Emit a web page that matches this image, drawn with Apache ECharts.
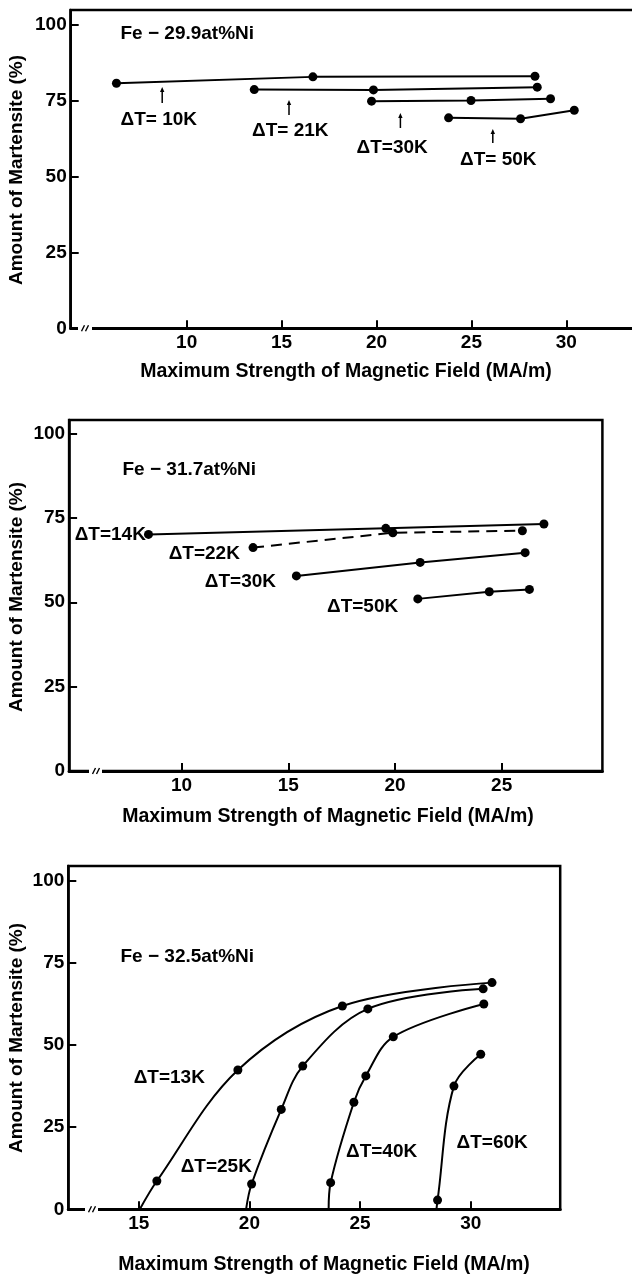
<!DOCTYPE html>
<html><head><meta charset="utf-8">
<script src="https://cdn.jsdelivr.net/npm/echarts@6/dist/echarts.min.js"></script>
<style>html,body{margin:0;padding:0;background:#fff}#c{width:632px;height:1278px}</style>
</head><body><div id="c"></div>
<script>
// ---------- DATA ----------
// Panel 1: Fe-29.9at%Ni  [field MA/m, martensite %]
const fe299_dT10 = [[6.3, 80.8], [16.65, 82.9], [28.35, 83.1]];
const fe299_dT21 = [[13.56, 78.7], [19.84, 78.6], [28.47, 79.5]];
const fe299_dT30 = [[19.74, 74.9], [24.98, 75.1], [29.17, 75.7]];
const fe299_dT50 = [[23.8, 69.4], [27.59, 69.1], [30.42, 71.9]];
// Panel 2: Fe-31.7at%Ni
const fe317_dT14 = [[8.45, 70.1], [19.57, 71.9], [26.98, 73.2]];
const fe317_dT22 = [[13.35, 66.2], [19.9, 70.6], [25.97, 71.2]];
const fe317_dT30 = [[15.38, 57.8], [21.18, 61.8], [26.1, 64.7]];
const fe317_dT50 = [[21.07, 51.0], [24.42, 53.1], [26.3, 53.8]];
// Panel 3: Fe-32.5at%Ni (curve foot on the axis has no measured dot)
const fe325_dT13 = [[15.05, 0], [15.82, 8.6], [19.48, 42.4], [24.2, 61.9], [30.96, 69.0]];
const fe325_dT25 = [[19.85, 0], [20.1, 7.7], [21.44, 30.4], [22.41, 43.6], [25.35, 61.0], [30.56, 67.1]];
const fe325_dT40 = [[23.58, 0], [23.67, 8.1], [24.72, 32.6], [25.26, 40.6], [26.5, 52.5], [30.59, 62.5]];
const fe325_dT60 = [[28.45, 0], [28.5, 2.8], [29.24, 37.5], [30.45, 47.2]];

const xTicks1 = [10, 15, 20, 25, 30];
const xTicks2 = [10, 15, 20, 25];
const xTicks3 = [15, 20, 25, 30];
const yTicks = [0, 25, 50, 75, 100];

const titles = ['Fe − 29.9at%Ni', 'Fe − 31.7at%Ni', 'Fe − 32.5at%Ni'];
const xName = 'Maximum Strength of Magnetic Field (MA/m)';
const yName = 'Amount of Martensite (%)';

// ---------- CHART ----------
const FONT = "'Liberation Sans', Arial, sans-serif";
const BLACK = '#000';
const chart = echarts.init(document.getElementById('c'), null, {renderer: 'canvas'});

function gridBox(left, top, width, height) {
  return {left, top, width, height, show: true, borderColor: BLACK, borderWidth: 2.5,
          backgroundColor: 'transparent', containLabel: false, outerBoundsMode: 'none'};
}
function xAx(i, min, max, ticks) {
  return {gridIndex: i, type: 'value', min, max,
    axisLine: {show: true, onZero: false, lineStyle: {color: BLACK, width: 3}},
    axisTick: {show: true, inside: true, length: 8, customValues: ticks, lineStyle: {color: BLACK, width: 2}},
    axisLabel: {customValues: ticks, color: BLACK, fontFamily: FONT, fontWeight: 'bold', fontSize: 19, margin: 5},
    splitLine: {show: false}};
}
function yAx(i, max) {
  return {gridIndex: i, type: 'value', min: 0, max,
    axisLine: {show: true, onZero: false, lineStyle: {color: BLACK, width: 2.5}},
    axisTick: {show: true, inside: true, length: 8, customValues: yTicks, lineStyle: {color: BLACK, width: 2}},
    axisLabel: {customValues: yTicks, color: BLACK, fontFamily: FONT, fontWeight: 'bold', fontSize: 19, margin: 4},
    splitLine: {show: false}};
}
function ser(i, data, opts) {
  opts = opts || {};
  return {type: 'line', xAxisIndex: i, yAxisIndex: i, data,
    smooth: opts.smooth || false,
    symbol: 'circle', showSymbol: true, showAllSymbol: true,
    symbolSize: function (v) { return v[1] === 0 ? 0 : 9; },
    itemStyle: {color: BLACK},
    lineStyle: {color: BLACK, width: 2, type: opts.dashed ? [11, 7] : 'solid'},
    emphasis: {disabled: true}, silent: true, animation: false, z: 3};
}

function txt(text, x, y, size, align, rot) {
  return {type: 'text', x, y, rotation: rot || 0, z: 10, silent: true,
    style: {text, fill: BLACK, fontFamily: FONT, fontWeight: 'bold', fontSize: size,
            align: align || 'left', verticalAlign: 'middle'}};
}
function axisBreak(a, b, y) {
  const els = [{type: 'rect', z: 20, silent: true, shape: {x: a, y: y - 3, width: b - a, height: 6}, style: {fill: '#fff'}}];
  [a + 5, a + 9].forEach(c => els.push({type: 'line', z: 21, silent: true,
    shape: {x1: c - 1.5, y1: y + 3, x2: c + 1.5, y2: y - 3}, style: {stroke: BLACK, lineWidth: 1.4}}));
  return els;
}
function arrow(x, yTop, yBot) {
  return [
    {type: 'line', z: 10, silent: true, shape: {x1: x, y1: yTop + 3, x2: x, y2: yBot}, style: {stroke: BLACK, lineWidth: 1.5}},
    {type: 'polygon', z: 10, silent: true, shape: {points: [[x, yTop], [x - 2.2, yTop + 5], [x + 2.2, yTop + 5]]}, style: {fill: BLACK}}
  ];
}

const graphics = [].concat(
  txt(titles[0], 120.5, 33.5, 19), txt(titles[1], 122.5, 470, 19), txt(titles[2], 120.5, 957, 19),
  txt('ΔT= 10K', 120.5, 120, 19), txt('ΔT= 21K', 252, 131, 19), txt('ΔT=30K', 356.6, 148, 19), txt('ΔT= 50K', 460, 160, 19),
  arrow(162.2, 87, 103), arrow(289, 100, 115), arrow(400.4, 113, 128), arrow(492.8, 129, 143),
  txt('ΔT=14K', 74.7, 535, 19), txt('ΔT=22K', 168.7, 554, 19), txt('ΔT=30K', 204.8, 582, 19), txt('ΔT=50K', 327, 607, 19),
  txt('ΔT=13K', 133.7, 1078, 19), txt('ΔT=25K', 180.7, 1167, 19), txt('ΔT=40K', 346, 1152, 19), txt('ΔT=60K', 456.6, 1143, 19),
  txt(xName, 346, 372, 19.5, 'center'), txt(xName, 328, 817, 19.5, 'center'), txt(xName, 324, 1265, 19.5, 'center'),
  txt(yName, 17, 170, 19, 'center', Math.PI / 2), txt(yName, 17, 597, 19, 'center', Math.PI / 2), txt(yName, 17, 1038, 19, 'center', Math.PI / 2),
  axisBreak(78, 92, 328.3), axisBreak(89, 102, 771), axisBreak(85, 98, 1209.3)
);

chart.setOption({
  backgroundColor: '#fff',
  animation: false,
  grid: [gridBox(70.7, 10, 570, 318.3), gridBox(69.1, 420, 533.3, 351), gridBox(68.3, 866, 491.9, 343.3)],
  xAxis: [xAx(0, 3.89, 33.92, xTicks1), xAx(1, 4.73, 29.72, xTicks2), xAx(2, 11.82, 34.04, xTicks3)],
  yAxis: [yAx(0, 104.95), yAx(1, 104.0), yAx(2, 104.5)],
  series: [
    ser(0, fe299_dT10), ser(0, fe299_dT21), ser(0, fe299_dT30), ser(0, fe299_dT50),
    ser(1, fe317_dT14), ser(1, fe317_dT22, {dashed: true}), ser(1, fe317_dT30), ser(1, fe317_dT50),
    ser(2, fe325_dT13, {smooth: 0.35}), ser(2, fe325_dT25, {smooth: 0.35}), ser(2, fe325_dT40, {smooth: 0.35}), ser(2, fe325_dT60, {smooth: 0.35})
  ],
  graphic: graphics
});
</script></body></html>
